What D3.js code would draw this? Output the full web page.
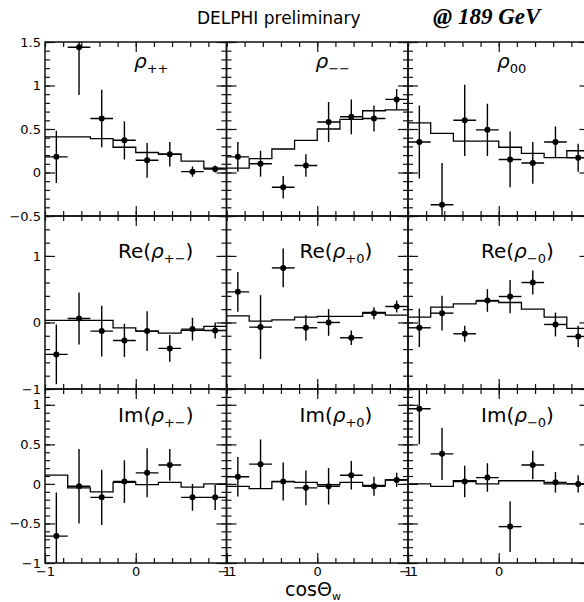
<!DOCTYPE html>
<html>
<head>
<meta charset="utf-8">
<script src="https://cdn.jsdelivr.net/npm/d3@7"></script>
<style>
  body { margin: 0; background: #fff; }
  svg { display: block; font-family: "DejaVu Sans", sans-serif; }
</style>
</head>
<body>
<svg id="chart" width="584" height="602"></svg>
<script>
// 8 bins in cos(theta_W), width 0.25
var binCentres = [-0.875, -0.625, -0.375, -0.125, 0.125, 0.375, 0.625, 0.875];
var binHalf = 0.125;

// rho_{++}
var rhoPPval = [0.18, 1.44, 0.62, 0.37, 0.14, 0.21, 0.01, 0.04];
var rhoPPerr = [0.30, 0.55, 0.33, 0.22, 0.20, 0.14, 0.06, 0.04];
var rhoPPmc  = [0.41, 0.41, 0.39, 0.29, 0.23, 0.21, 0.13, 0.05];
// rho_{--}
var rhoMMval = [0.18, 0.10, -0.17, 0.08, 0.58, 0.64, 0.62, 0.84];
var rhoMMerr = [0.17, 0.15, 0.13, 0.13, 0.23, 0.20, 0.15, 0.12];
var rhoMMmc  = [0.05, 0.16, 0.27, 0.37, 0.50, 0.61, 0.71, 0.72];
// rho_{00}
var rho00val = [0.35, -0.37, 0.60, 0.49, 0.15, 0.11, 0.35, 0.17];
var rho00err = [0.42, 0.48, 0.41, 0.30, 0.32, 0.24, 0.18, 0.16];
var rho00mc  = [0.57, 0.45, 0.36, 0.36, 0.29, 0.22, 0.17, 0.25];
// Re(rho_{+-})
var rePMval = [-0.48, 0.06, -0.13, -0.27, -0.13, -0.39, -0.10, -0.12];
var rePMerr = [0.45, 0.39, 0.38, 0.25, 0.30, 0.20, 0.17, 0.12];
var rePMmc  = [0.03, 0.03, 0.03, -0.08, -0.13, -0.16, -0.12, -0.06];
// Re(rho_{+0})
var reP0val = [0.46, -0.07, 0.82, -0.08, 0.00, -0.23, 0.14, 0.24];
var reP0err = [0.30, 0.48, 0.29, 0.19, 0.20, 0.11, 0.09, 0.09];
var reP0mc  = [0.10, 0.02, 0.04, 0.08, 0.09, 0.09, 0.15, 0.11];
// Re(rho_{-0})
var reM0val = [-0.08, 0.14, -0.17, 0.33, 0.39, 0.60, -0.03, -0.21];
var reM0err = [0.29, 0.26, 0.12, 0.17, 0.25, 0.18, 0.18, 0.16];
var reM0mc  = [0.08, 0.23, 0.28, 0.32, 0.30, 0.20, 0.08, -0.09];
// Im(rho_{+-})
var imPMval = [-0.66, -0.03, -0.17, 0.03, 0.14, 0.24, -0.17, -0.17];
var imPMerr = [0.55, 0.47, 0.35, 0.27, 0.31, 0.20, 0.17, 0.16];
var imPMmc  = [0.11, -0.05, -0.10, 0.02, -0.01, 0.02, -0.04, 0.00];
// Im(rho_{+0})
var imP0val = [0.09, 0.25, 0.03, -0.05, -0.03, 0.11, -0.03, 0.05];
var imP0err = [0.25, 0.31, 0.24, 0.22, 0.23, 0.18, 0.12, 0.09];
var imP0mc  = [-0.03, -0.06, 0.03, 0.02, -0.01, 0.02, -0.02, 0.05];
// Im(rho_{-0})
var imM0val = [0.95, 0.38, 0.03, 0.08, -0.54, 0.24, 0.02, 0.00];
var imM0err = [0.45, 0.33, 0.20, 0.18, 0.32, 0.18, 0.13, 0.11];
var imM0mc  = [0.00, -0.03, 0.04, 0.00, 0.04, 0.04, 0.00, 0.00];

// axis settings per row
var rowDomains = [[-0.5, 1.5], [-1, 1.6], [-1, 1.2]];
var rowMinorCount = [20, 13, 22];
var rowLabelTicks = [[-0.5, 0, 0.5, 1, 1.5], [-1, 0, 1], [-1, -0.5, 0, 0.5, 1]];
// x labels per column; the last "1" falls outside the picture
var colLabelTicks = [[-1, 0, 1], [-1, 0, 1], [-1, 0]];

var panels = [
  {pre: "",    sub: "++", val: rhoPPval, err: rhoPPerr, mc: rhoPPmc},
  {pre: "",    sub: "\u2212\u2212", val: rhoMMval, err: rhoMMerr, mc: rhoMMmc},
  {pre: "",    sub: "00", val: rho00val, err: rho00err, mc: rho00mc},
  {pre: "Re(", sub: "+\u2212", val: rePMval, err: rePMerr, mc: rePMmc},
  {pre: "Re(", sub: "+0", val: reP0val, err: reP0err, mc: reP0mc},
  {pre: "Re(", sub: "\u22120", val: reM0val, err: reM0err, mc: reM0mc},
  {pre: "Im(", sub: "+\u2212", val: imPMval, err: imPMerr, mc: imPMmc},
  {pre: "Im(", sub: "+0", val: imP0val, err: imP0err, mc: imP0mc},
  {pre: "Im(", sub: "\u22120", val: imM0val, err: imM0err, mc: imM0mc}
];

var svg = d3.select("#chart");
var left = 45, panelW = 181.5;
var rowEdges = [42, 216, 389, 563];
var fmt = d3.format("~g");

svg.append("text")
  .attr("x", 197).attr("y", 24)
  .attr("font-size", 17)
  .text("DELPHI preliminary");
svg.append("text")
  .attr("x", 433).attr("y", 24)
  .attr("font-family", "Liberation Serif, serif")
  .attr("font-style", "italic").attr("font-weight", "bold")
  .attr("font-size", 23)
  .text("@ 189 GeV");

panels.forEach(function(p, i) {
  var row = Math.floor(i / 3), col = i % 3;
  var x0 = left + col * panelW, x1 = x0 + panelW;
  var y0 = rowEdges[row], y1 = rowEdges[row + 1];

  var x = d3.scaleLinear().domain([-1, 1]).range([x0, x1]);
  var y = d3.scaleLinear().domain(rowDomains[row]).range([y1, y0]);

  var g = svg.append("g").attr("class", "panel");
  var clipId = "clip" + i;
  g.append("clipPath").attr("id", clipId)
    .append("rect")
    .attr("x", x0).attr("y", y0)
    .attr("width", panelW).attr("height", y1 - y0);

  // ticks, all pointing into the frame
  function tickAxes(axisFn, pos, scale, minor, major, labels) {
    var a = g.append("g").attr("transform", pos);
    a.call(axisFn(scale).tickValues(minor).tickSize(-5).tickFormat(""));
    var b = g.append("g").attr("transform", pos);
    b.call(axisFn(scale).tickValues(major).tickSize(-10).tickPadding(4)
      .tickFormat(labels ? fmt : ""));
    [a, b].forEach(function(s) {
      s.select(".domain").remove();
      s.selectAll("line").attr("stroke", "#111").attr("stroke-width", 1.2);
      s.selectAll("text").attr("font-size", 13).attr("fill", "#000")
        .attr("font-family", "DejaVu Sans, sans-serif");
    });
  }
  var yMinor = y.ticks(rowMinorCount[row]);
  var xMinor = x.ticks(10);
  tickAxes(d3.axisLeft, "translate(" + x0 + ",0)", y, yMinor, rowLabelTicks[row], col === 0);
  tickAxes(d3.axisRight, "translate(" + x1 + ",0)", y, yMinor, rowLabelTicks[row], false);
  tickAxes(d3.axisTop, "translate(0," + y0 + ")", x, xMinor, [0], false);
  tickAxes(d3.axisBottom, "translate(0," + y1 + ")", x, xMinor,
    row === 2 ? colLabelTicks[col] : [0], row === 2);

  g.append("rect")
    .attr("x", x0).attr("y", y0)
    .attr("width", panelW).attr("height", y1 - y0)
    .attr("fill", "none").attr("stroke", "#111").attr("stroke-width", 1.5);

  var inner = g.append("g").attr("clip-path", "url(#" + clipId + ")");

  // prediction histogram
  var steps = binCentres.map(function(c, k) { return [c - binHalf, p.mc[k]]; });
  steps.push([1, p.mc[p.mc.length - 1]]);
  inner.append("path")
    .attr("d", d3.line().x(function(d) { return x(d[0]); })
      .y(function(d) { return y(d[1]); }).curve(d3.curveStepAfter)(steps))
    .attr("fill", "none").attr("stroke", "#000").attr("stroke-width", 1.3);

  // data points with errors
  var pts = inner.selectAll("g.pt")
    .data(binCentres.map(function(c, k) { return {c: c, v: p.val[k], e: p.err[k]}; }))
    .enter().append("g").attr("class", "pt");
  pts.append("line")
    .attr("x1", function(d) { return x(d.c - binHalf); })
    .attr("x2", function(d) { return x(d.c + binHalf); })
    .attr("y1", function(d) { return y(d.v); })
    .attr("y2", function(d) { return y(d.v); });
  pts.append("line")
    .attr("x1", function(d) { return x(d.c); })
    .attr("x2", function(d) { return x(d.c); })
    .attr("y1", function(d) { return y(d.v - d.e); })
    .attr("y2", function(d) { return y(d.v + d.e); });
  pts.selectAll("line").attr("stroke", "#000").attr("stroke-width", 1.4);
  pts.append("circle")
    .attr("cx", function(d) { return x(d.c); })
    .attr("cy", function(d) { return y(d.v); })
    .attr("r", 3).attr("fill", "#000");

  // panel label
  var lx = x0 + (p.pre ? 73 : 89);
  var ly = y0 + [26, 42, 33][row];
  var t = g.append("text").attr("x", lx).attr("y", ly).attr("font-size", 20);
  if (p.pre) t.append("tspan").text(p.pre);
  t.append("tspan").attr("font-style", "italic").text("\u03c1");
  t.append("tspan").attr("font-size", 13).attr("dy", 5).text(p.sub);
  if (p.pre) t.append("tspan").attr("dy", -5).text(")");
});

// x axis title
var xt = svg.append("text").attr("x", 285).attr("y", 596).attr("font-size", 19);
xt.append("tspan").text("cos\u0398");
xt.append("tspan").attr("font-size", 11).attr("dy", 4).text("w");
</script>
</body>
</html>
